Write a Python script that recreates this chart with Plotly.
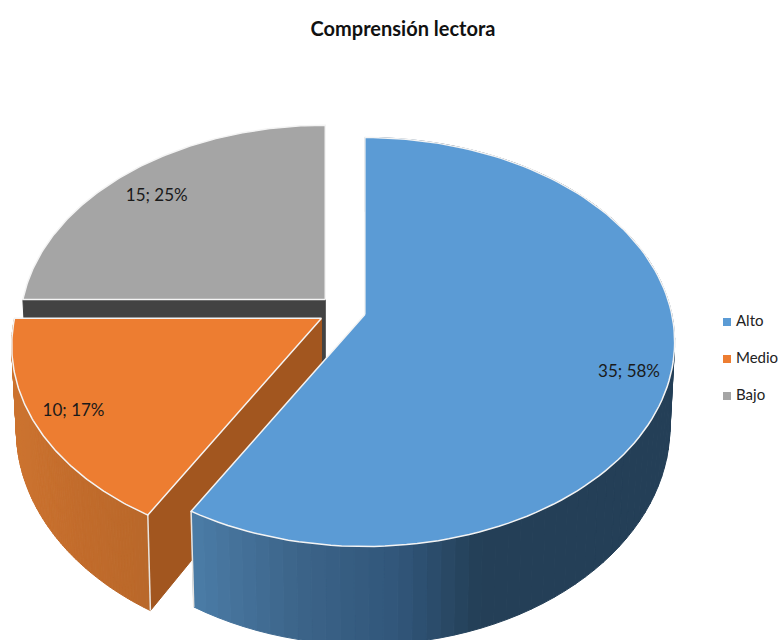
import numpy as np
import plotly.graph_objects as go

# data
categories = ["Alto", "Medio", "Bajo"]
values = [35, 10, 15]
percents = [58, 17, 25]

# colours
top_colors = ["#5b9bd5", "#ed7d31", "#a5a5a5"]
inner_wall_color = {1: "#a2561f", 2: "#434343"}
wall_stops = {
    0: ([195, 300, 400, 480, 680], ["#4b7ca6", "#3c6489", "#31567a", "#243f57", "#243f57"]),
    1: ([10, 80, 150], ["#cd7430", "#c26c2c", "#b9682a"]),
}

# fake 3d geometry (pixel canvas)
CX, CY = 342, 310.5
R, H, K = 307, 200.8, 0.1344
DEPTH, SHRINK = 83, 0.985
PULL = 0.077
SLICE_SCALE = [1, 1, 0.985]
FONT = "Lato"

# legend placement
LEG_X, LEG_Y, LEG_GAP = 727, 322, 37


def rim(apex, t, scale=1):
    u, v = np.sin(t), np.cos(t)
    f = 1 / (1 + K * v)
    return apex[0] + scale * R * u * f, apex[1] - scale * H * v * f


def drop(apex, x, y):
    # bottom of the wall under a point of the top face
    f = 1 / (1 + K * (apex[1] - y) / H)
    return apex[0] + (x - apex[0]) * SHRINK, y + DEPTH * f


def hex_rgb(c):
    return [int(c[i:i + 2], 16) for i in (1, 3, 5)]


def wall_color(slice_i, x):
    xs, cols = wall_stops[slice_i]
    rgb = [np.interp(x, xs, [hex_rgb(c)[j] for c in cols]) for j in range(3)]
    return "rgb(%d,%d,%d)" % tuple(rgb)


fig = go.Figure()


def poly(xs, ys, fill, line=None, width=1):
    fig.add_trace(go.Scatter(
        x=list(xs), y=list(ys), mode="lines", fill="toself", fillcolor=fill,
        line=dict(color=line or fill, width=width),
        hoverinfo="skip", showlegend=False,
    ))


total = sum(values)
edges = np.cumsum([0] + values) / total * 2 * np.pi
apexes = []
for i in range(3):
    mid = (edges[i] + edges[i + 1]) / 2
    apexes.append((CX + R * PULL * np.sin(mid), CY - H * PULL * np.cos(mid)))

# back to front: gray, orange, blue
for i in [2, 1, 0]:
    a, b = edges[i], edges[i + 1]
    apex = apexes[i]
    scale = SLICE_SCALE[i]
    ts = np.linspace(a, b, 121)
    rx, ry = rim(apex, ts, scale)

    # cut face that looks at the viewer
    if i in inner_wall_color:
        ex, ey = rim(apex, a, scale)
        bx0, by0 = drop(apex, apex[0], apex[1])
        bx1, by1 = drop(apex, ex, ey)
        poly([apex[0], ex, bx1, bx0, apex[0]], [apex[1], ey, by1, by0, apex[1]],
             inner_wall_color[i])

    # outer wall, thin strips for the shading
    if i in wall_stops:
        strips = np.linspace(a, b, 90)
        for t0, t1 in zip(strips[:-1], strips[1:]):
            x0, y0 = rim(apex, t0, scale)
            x1, y1 = rim(apex, t1, scale)
            bx0, by0 = drop(apex, x0, y0)
            bx1, by1 = drop(apex, x1, y1)
            poly([x0, x1, bx1, bx0, x0], [y0, y1, by1, by0, y0],
                 wall_color(i, (x0 + x1) / 2))
        # corner line of the wall
        cx_, cy_ = rim(apex, b if i == 0 else a, scale)
        dx_, dy_ = drop(apex, cx_, cy_)
        fig.add_trace(go.Scatter(x=[cx_, dx_], y=[cy_, dy_], mode="lines",
                                 line=dict(color="#e8e4e0", width=1.5),
                                 hoverinfo="skip", showlegend=False))

    poly(np.r_[apex[0], rx, apex[0]], np.r_[apex[1], ry, apex[1]],
         top_colors[i], line="#f4f4f4", width=1.5)

# data labels
label_r = [0.86, 0.87, 0.85]
label_dy = [12, 0, 7]
for i in range(3):
    mid = (edges[i] + edges[i + 1]) / 2
    x, y = rim(apexes[i], mid)
    lx = apexes[i][0] + (x - apexes[i][0]) * label_r[i]
    ly = apexes[i][1] + (y - apexes[i][1]) * label_r[i] + label_dy[i]
    fig.add_trace(go.Scatter(
        x=[lx], y=[ly], mode="text",
        text=[f"{values[i]}; {percents[i]}%"],
        textfont=dict(family=FONT, size=17, color="#1a1a1a"),
        hoverinfo="skip", showlegend=False,
    ))

# legend, drawn on the canvas so the spacing follows the original
for i in range(3):
    fig.add_trace(go.Scatter(
        x=[LEG_X], y=[LEG_Y + i * LEG_GAP], mode="markers", name=categories[i],
        marker=dict(symbol="square", size=8, color=top_colors[i]),
        hoverinfo="name", showlegend=False,
    ))
    fig.add_trace(go.Scatter(
        x=[LEG_X + 9], y=[LEG_Y + i * LEG_GAP], mode="text",
        text=[categories[i]], textposition="middle right",
        textfont=dict(family=FONT, size=15, color="#222222"),
        hoverinfo="skip", showlegend=False,
    ))

fig.update_layout(
    width=780, height=640,
    margin=dict(l=0, r=0, t=0, b=0),
    paper_bgcolor="white", plot_bgcolor="white",
    title=dict(text="<b>Comprensión lectora</b>", x=403 / 780, xanchor="center",
               y=1 - 29 / 640, yanchor="middle",
               font=dict(family=FONT, size=20, color="#111111")),
    xaxis=dict(range=[0, 780], visible=False, fixedrange=True),
    yaxis=dict(range=[640, 0], visible=False, fixedrange=True),
    showlegend=False,
)

# drop the 8px body margin so the figure fills the window
fig.write_html("out.html", config={"displayModeBar": False},
               post_script="document.body.style.margin = '0';")
